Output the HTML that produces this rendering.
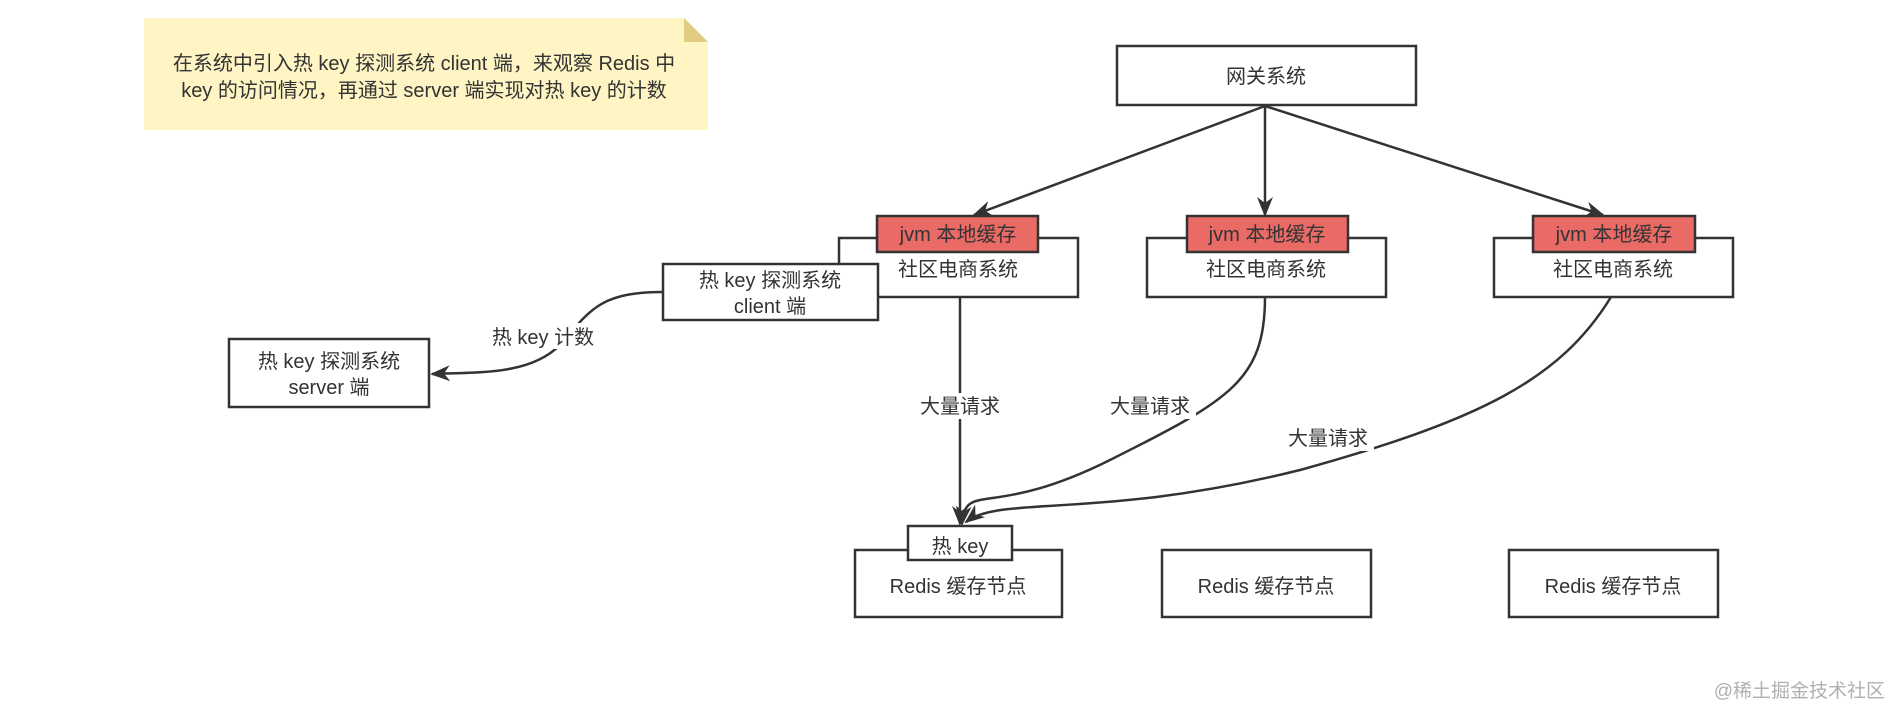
<!DOCTYPE html>
<html><head><meta charset="utf-8"><style>
html,body{margin:0;padding:0;background:#fff;}
svg{display:block;}
text{font-family:"Liberation Sans","Noto Sans CJK SC",sans-serif;font-size:20px;fill:#333;}
</style></head><body>
<svg width="1893" height="709" viewBox="0 0 1893 709" xmlns="http://www.w3.org/2000/svg">
<defs>
<marker id="b" viewBox="0 0 10 10" refX="9" refY="5" markerWidth="20" markerHeight="20" markerUnits="userSpaceOnUse" orient="auto">
<path d="M0,1 L10,5 L0,9 L3,5 z" fill="#333"/></marker>
</defs>
<path d="M144,18 L684,18 L708,42 L708,130 L144,130 Z" fill="#fff4c3"/>
<path d="M684,18 L708,42 L684,42 Z" fill="#e0cc83"/>
<text x="424" y="70" text-anchor="middle">在系统中引入热 key 探测系统 client 端，来观察 Redis 中</text>
<text x="424" y="97" text-anchor="middle">key 的访问情况，再通过 server 端实现对热 key 的计数</text>

<g stroke="#333" stroke-width="2.5" fill="none">
<rect x="1117" y="46" width="299" height="59" fill="#fff"/>
<line x1="1265" y1="106" x2="974" y2="215" marker-end="url(#b)"/>
<line x1="1265" y1="106" x2="1265" y2="215" marker-end="url(#b)"/>
<line x1="1265" y1="106" x2="1603" y2="215" marker-end="url(#b)"/>

<rect x="839" y="238" width="239" height="59" fill="#fff"/>
<rect x="1147" y="238" width="239" height="59" fill="#fff"/>
<rect x="1494" y="238" width="239" height="59" fill="#fff"/>
<rect x="877" y="216" width="161" height="36" fill="#ea6b66"/>
<rect x="1187" y="216" width="161" height="36" fill="#ea6b66"/>
<rect x="1533" y="216" width="162" height="36" fill="#ea6b66"/>
<rect x="663" y="264" width="215" height="56" fill="#fff"/>
<rect x="229" y="339" width="200" height="68" fill="#fff"/>

<path d="M663,292 C600,292 590,310 560,345 C530,375 480,372 432,374" marker-end="url(#b)"/>
<path d="M960,297 L960,524" marker-end="url(#b)"/>
<path d="M1265,297 C1265,380 1230,400 1110,460 C990,520 966,480 962,524" marker-end="url(#b)"/>
<path d="M1611,297 C1560,380 1480,420 1300,470 C1100,520 1000,495 966,522" marker-end="url(#b)"/>

<rect x="855" y="550" width="207" height="67" fill="#fff"/>
<rect x="1162" y="550" width="209" height="67" fill="#fff"/>
<rect x="1509" y="550" width="209" height="67" fill="#fff"/>
<rect x="908" y="526" width="104" height="34" fill="#fff"/>
</g>

<text x="1266" y="83" text-anchor="middle">网关系统</text>
<text x="958" y="241" text-anchor="middle">jvm 本地缓存</text>
<text x="1267" y="241" text-anchor="middle">jvm 本地缓存</text>
<text x="1614" y="241" text-anchor="middle">jvm 本地缓存</text>
<text x="958" y="276" text-anchor="middle">社区电商系统</text>
<text x="1266" y="276" text-anchor="middle">社区电商系统</text>
<text x="1613" y="276" text-anchor="middle">社区电商系统</text>
<text x="770" y="287" text-anchor="middle">热 key 探测系统</text>
<text x="770" y="313" text-anchor="middle">client 端</text>
<text x="329" y="368" text-anchor="middle">热 key 探测系统</text>
<text x="329" y="394" text-anchor="middle">server 端</text>
<rect x="486" y="323" width="114" height="26" fill="#fff"/>
<text x="543" y="344" text-anchor="middle">热 key 计数</text>
<rect x="914" y="393" width="92" height="26" fill="#fff"/>
<text x="960" y="413" text-anchor="middle">大量请求</text>
<rect x="1104" y="393" width="92" height="26" fill="#fff"/>
<text x="1150" y="413" text-anchor="middle">大量请求</text>
<rect x="1282" y="425" width="92" height="26" fill="#fff"/>
<text x="1328" y="445" text-anchor="middle">大量请求</text>
<text x="960" y="553" text-anchor="middle">热 key</text>
<text x="958" y="593" text-anchor="middle">Redis 缓存节点</text>
<text x="1266" y="593" text-anchor="middle">Redis 缓存节点</text>
<text x="1613" y="593" text-anchor="middle">Redis 缓存节点</text>
<text x="1885" y="697" text-anchor="end" style="font-size:19px;fill:#b0b0b0">@稀土掘金技术社区</text>
</svg>
</body></html>
